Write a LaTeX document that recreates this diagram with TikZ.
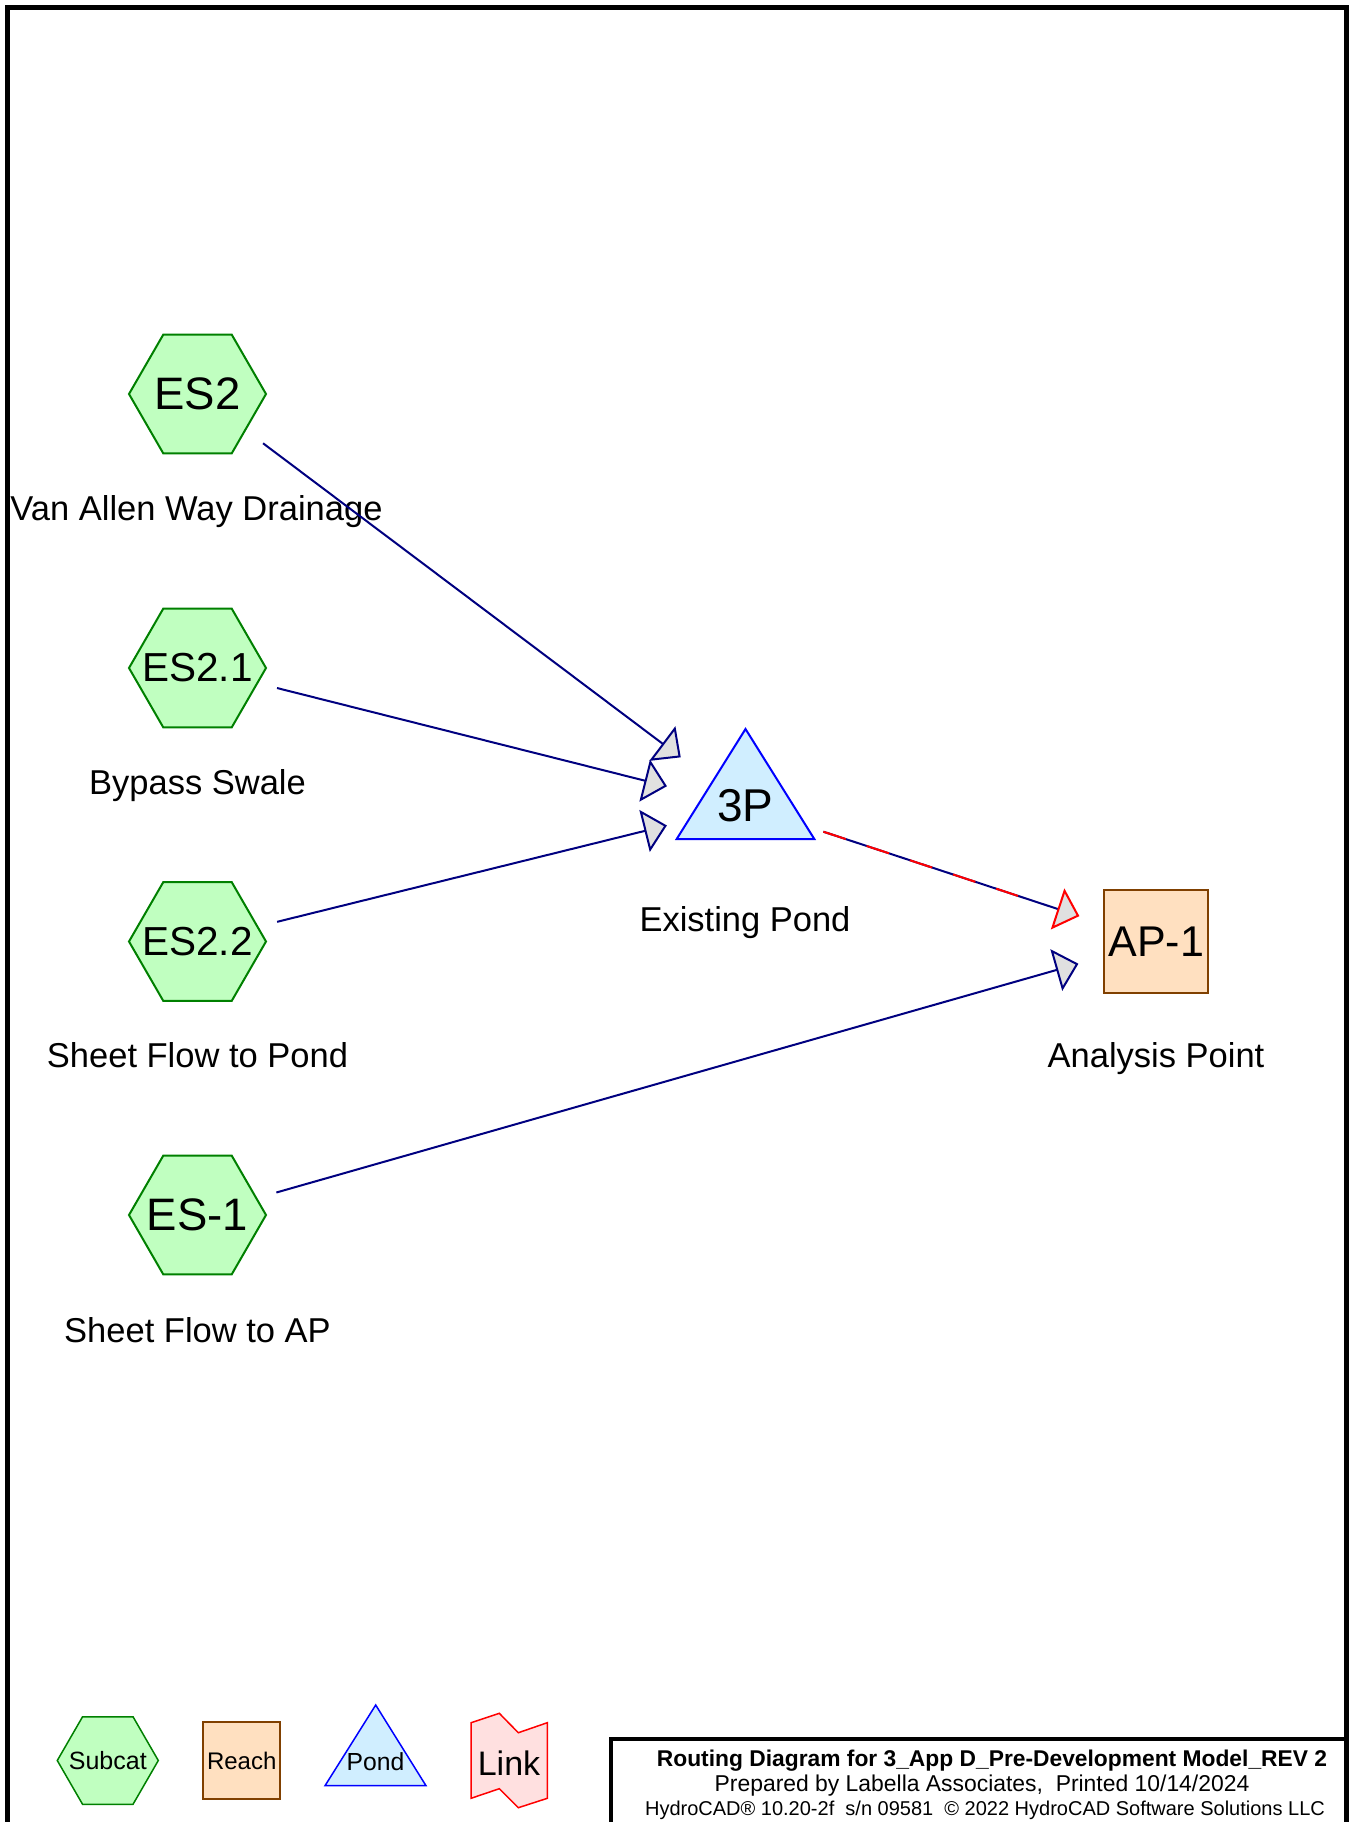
\documentclass[tikz,border=0pt]{standalone}
\usepackage{fontspec}
\setmainfont{Liberation Sans}
\usetikzlibrary{shapes.geometric,arrows.meta}
\definecolor{navyc}{HTML}{000080}
\definecolor{hexfill}{HTML}{C0FFC0}
\definecolor{hexline}{HTML}{008000}
\definecolor{pondfill}{HTML}{D0EEFF}
\definecolor{pondline}{HTML}{0000FF}
\definecolor{reachfill}{HTML}{FFE0C0}
\definecolor{reachline}{HTML}{804000}
\definecolor{linkfill}{HTML}{FFE0E0}
\definecolor{tipfill}{HTML}{E0E0E0}
\begin{document}
\begin{tikzpicture}[x=1pt,y=-1pt,
  subcat/.style={regular polygon, regular polygon sides=6, minimum size=137pt, inner sep=0pt,
    draw=hexline, fill=hexfill, line width=2pt},
  idtext/.style={font=\fontsize{45.5}{50}\selectfont},
  idsmall/.style={font=\fontsize{40.5}{46}\selectfont},
  lbl/.style={anchor=base, inner sep=0pt, font=\fontsize{34.5}{40}\selectfont},
  pondshape/.style={draw=pondline, fill=pondfill, line width=2pt, line join=miter},
  reachbox/.style={rectangle, draw=reachline, fill=reachfill, line width=2pt, inner sep=0pt},
  flow/.style={draw=navyc, line width=2pt, shorten <=82pt, shorten >=81pt,
    -{Triangle[length=23pt,width=43pt,fill=tipfill]}},
  redflow/.style={draw=navyc, line width=2pt, shorten <=82pt, shorten >=81pt,
    -{Triangle[length=23pt,width=43pt,color=red,fill=tipfill]}},
  reddash/.style={draw=red, line width=2pt, dash pattern=on 23.6pt off 21.9pt,
    shorten <=82pt, shorten >=145.6pt},
  titletext/.style={anchor=base, inner sep=0pt}
]
\useasboundingbox (0,0) rectangle (1351,1822);
\fill[white] (0,0) rectangle (1351,1822);

% outer frame
\draw[line width=5pt] (7.5,8) rectangle (1346,1840);

% pond triangle (3P)
\draw[pondshape] (745.5,729) -- (814.3,839) -- (676.7,839) -- cycle;
\node[font=\fontsize{46}{50}\selectfont, inner sep=0pt] (p3) at (745.5,806) {3P};

% subcatchments
\node[subcat, idtext] (es2) at (197.5,394) {\makebox[0pt]{ES2}};
\node[subcat, idsmall] (es21) at (197.5,668) {\makebox[0pt]{ES2.1}};
\node[subcat, idsmall] (es22) at (197.5,941.5) {\makebox[0pt]{ES2.2}};
\node[subcat, idtext] (es1) at (197.5,1215) {\makebox[0pt]{ES-1}};

% analysis point
\node[reachbox, minimum width=104pt, minimum height=103pt, font=\fontsize{43}{48}\selectfont] (ap1) at (1156.3,941.5) {AP-1};

% labels
\node[lbl] (l1) at (196.5,520.5) {Van Allen Way Drainage};
\node[lbl] (l2) at (197.5,794.7) {Bypass Swale};
\node[lbl] (l3) at (197.5,1067.7) {Sheet Flow to Pond};
\node[lbl] (l4) at (197.5,1342) {Sheet Flow to AP};
\node[lbl] (l5) at (745,931) {Existing Pond};
\node[lbl] (l6) at (1156,1067.5) {Analysis Point};

% connectors
\draw[flow] (es2.center) -- (p3.center);
\draw[flow] (es21.center) -- (p3.center);
\draw[flow] (es22.center) -- (p3.center);
\draw[flow] (es1.center) -- (ap1.center);
\draw[redflow] (p3.center) -- (ap1.center);
\draw[reddash] (p3.center) -- (ap1.center);

% legend
\node[regular polygon, regular polygon sides=6, minimum size=101pt, inner sep=0pt,
  draw=hexline, fill=hexfill, line width=1.5pt, font=\fontsize{25}{30}\selectfont] (lgsub) at (107.8,1760.5) {\makebox[0pt]{Subcat}};
\node[reachbox, line width=1.5pt, minimum width=77pt, minimum height=77pt, font=\fontsize{24}{28}\selectfont] (lgreach) at (241.7,1760.7) {\makebox[0pt]{Reach}};
\draw[pondshape, line width=1.5pt] (375.7,1705) -- (426,1785.7) -- (325,1785.7) -- cycle;
\node[inner sep=0pt, font=\fontsize{24.7}{28}\selectfont] (lgpond) at (375.5,1761.5) {Pond};
\draw[draw=red, fill=linkfill, line width=1.5pt, line join=miter]
  (471,1722.7) -- (499.3,1713.3) -- (518.3,1732.7) -- (547.3,1722.7) -- (547.3,1798.3)
  -- (518.3,1807.7) -- (499.3,1788.7) -- (471,1798.3) -- cycle;
\node[inner sep=0pt, font=\fontsize{34}{38}\selectfont] (lglink) at (509,1763) {Link};

% title box
\draw[line width=4pt] (610.5,1840) -- (610.5,1739) -- (1346,1739);
\node[titletext, font=\fontsize{22.8}{26}\selectfont\bfseries] (t1) at (992,1766) {Routing Diagram for 3\_App D\_Pre-Development Model\_REV 2};
\node[titletext, font=\fontsize{22.9}{26}\selectfont] (t2) at (982,1791) {Prepared by Labella Associates,\ \ Printed 10/14/2024};
\node[titletext, font=\fontsize{20}{23}\selectfont] (t3) at (985,1815) {HydroCAD® 10.20-2f\ \ s/n 09581\ \ © 2022 HydroCAD Software Solutions LLC};
\end{tikzpicture}
\end{document}
